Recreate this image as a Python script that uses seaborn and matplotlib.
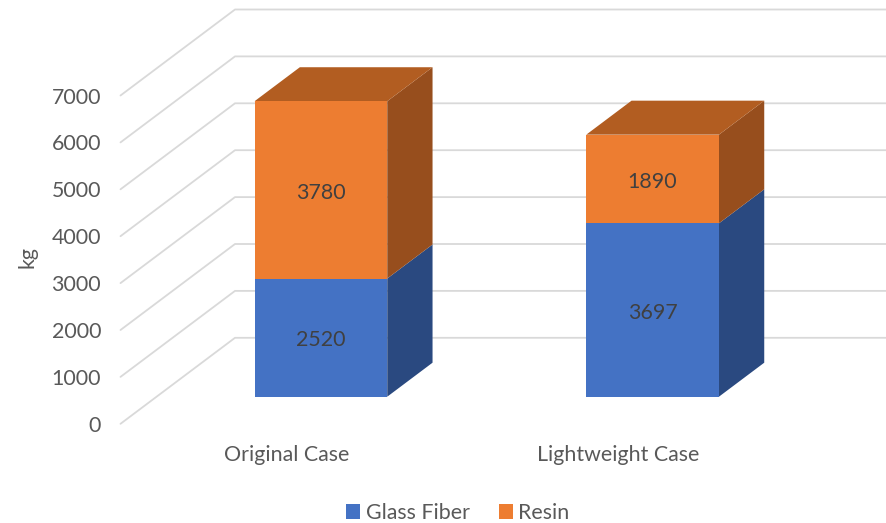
import matplotlib
matplotlib.use("Agg")
import matplotlib.pyplot as plt
import seaborn as sns

cases = ["Original Case", "Lightweight Case"]
glass_fiber = [2520, 3697]
resin = [3780, 1890]
y_ticks = [0, 1000, 2000, 3000, 4000, 5000, 6000, 7000]

BLUE = "#4472C4"
ORANGE = "#ED7D31"
BLUE_SIDE = "#2A4980"
ORANGE_SIDE = "#974E1D"
ORANGE_TOP = "#B25D21"
GRID = "#D9D9D9"
TEXT = "#595959"
LABEL = "#404040"
FONT_SIZE = 15.4

# pixel scale of the front of the bars
px_per_kg = 0.0469
px_per_cat = 331.7
BAR_WIDTH = 0.4

# fake 3d offsets, in data units
depth_x = 45.3 / px_per_cat
depth_y = 34 / px_per_kg
wall_x = 114.5 / px_per_cat
wall_y = 86 / px_per_kg
front_y = 27.1 / px_per_kg
label_shift = 34 / px_per_cat

sns.set_theme(style="white")
plt.rcParams["font.family"] = ["Lato", "DejaVu Sans"]

fig = plt.figure(figsize=(8.87, 5.23), dpi=100)
ax = fig.add_axes([120.5 / 887, 1 - 423.8 / 523, 766.5 / 887, 423.8 / 523])

sns.barplot(x=cases, y=glass_fiber, color=BLUE, saturation=1, width=BAR_WIDTH,
            label="Glass Fiber", ax=ax, zorder=3, linewidth=0)
sns.barplot(x=cases, y=resin, bottom=glass_fiber, color=ORANGE, saturation=1, width=BAR_WIDTH,
            label="Resin", ax=ax, zorder=3, linewidth=0)

ax.set_xlim((120.5 - 320.9) / px_per_cat, (887 - 320.9) / px_per_cat)
ax.set_ylim(-front_y, 396.7 / px_per_kg)

# gridlines run along the side wall, then along the back wall
x_left, x_right = ax.get_xlim()
for tick in y_ticks:
    y0 = tick - front_y
    ax.plot([x_left, x_left + wall_x, x_right], [y0, y0 + wall_y, y0 + wall_y],
            color=GRID, lw=1.3, zorder=1, clip_on=False)

# side and top faces of each bar
for i in range(len(cases)):
    right = i + BAR_WIDTH / 2
    left = i - BAR_WIDTH / 2
    total = glass_fiber[i] + resin[i]
    ax.fill([right, right + depth_x, right + depth_x, right],
            [0, depth_y, glass_fiber[i] + depth_y, glass_fiber[i]],
            color=BLUE_SIDE, lw=0, zorder=2)
    ax.fill([right, right + depth_x, right + depth_x, right],
            [glass_fiber[i], glass_fiber[i] + depth_y, total + depth_y, total],
            color=ORANGE_SIDE, lw=0, zorder=2)
    ax.fill([left, left + depth_x, right + depth_x, right],
            [total, total + depth_y, total + depth_y, total],
            color=ORANGE_TOP, lw=0, zorder=2)

for container in ax.containers:
    for ann in ax.bar_label(container, label_type="center", color=LABEL, fontsize=FONT_SIZE):
        ann.xyann = (0, -2)

ax.set_xticks([i - label_shift for i in range(len(cases))], cases)
ax.set_yticks([t - front_y for t in y_ticks], [str(t) for t in y_ticks])
ax.tick_params(axis="x", length=0, pad=15, labelsize=FONT_SIZE, labelcolor=TEXT)
ax.tick_params(axis="y", length=0, pad=14, labelsize=FONT_SIZE, labelcolor=TEXT)
ax.set_ylabel("kg", fontsize=FONT_SIZE, color=TEXT)
ax.yaxis.set_label_coords((37 - 120.5) / 766.5, (423.8 - 257) / 423.8)
ax.patch.set_alpha(0)
sns.despine(ax=ax, left=True, bottom=True)

handles, labels = ax.get_legend_handles_labels()
fig.legend(handles, labels, loc="center", bbox_to_anchor=(458 / 887, 1 - 513 / 523),
           ncol=2, frameon=False, fontsize=FONT_SIZE, labelcolor=TEXT,
           handlelength=0.66, handleheight=0.66, handletextpad=0.25, columnspacing=1.36)
if ax.get_legend():
    ax.get_legend().remove()

fig.savefig("out.png", dpi=100)
plt.close(fig)
